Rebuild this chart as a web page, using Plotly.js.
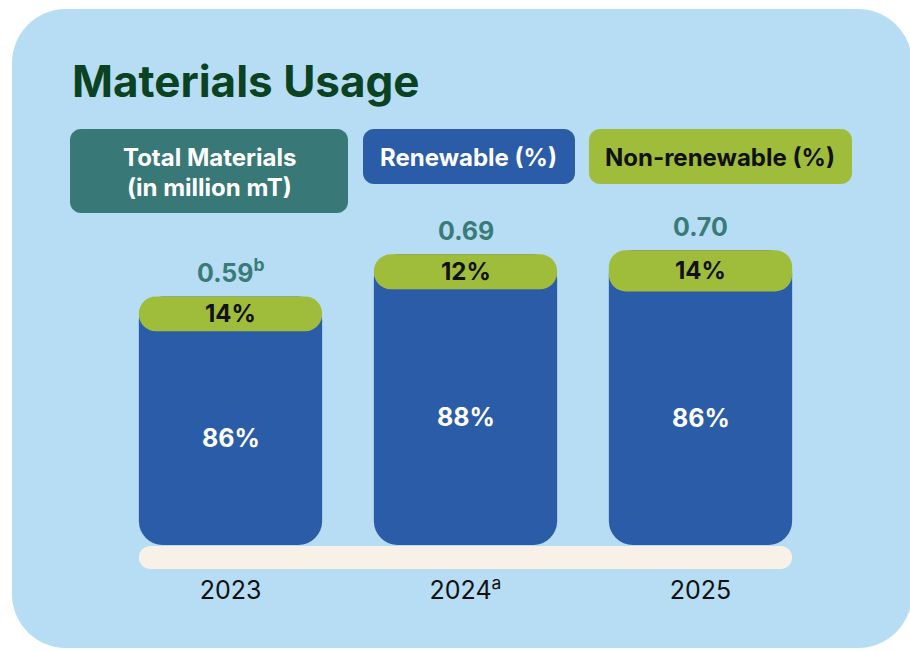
<!DOCTYPE html>
<html>
<head>
<meta charset="utf-8">
<script src="https://cdn.plot.ly/plotly-3.0.1.min.js"></script>
<style>html,body{margin:0;padding:0;background:#fff;}#chart{width:910px;height:651px;}</style>
</head>
<body>
<div id="chart"></div>
<script>
// ---- data ----
const years = ['2023', '2024', '2025'];
const yearLabels = ['2023', '2024<sup>a</sup>', '2025'];
const totalMaterials = [0.59, 0.69, 0.70];          // million mT
const totalLabels = ['0.59<sup>b</sup>', '0.69', '0.70'];
const renewablePct = [86, 88, 86];
const nonRenewablePct = [14, 12, 14];

// ---- style ----
const FONT = 'Inter, Lato, "Open Sans", sans-serif';
const C = {
  bg: '#b6ddf3', blue: '#2b5ca8', green: '#9fbd3b', teal: '#387977',
  title: '#0b4221', value: '#3a7b78', beige: '#f8f1e7'
};
const W = 910, H = 651;
const M = {l: 113, r: 92, t: 208, b: 106};
const PW = W - M.l - M.r, PH = H - M.t - M.b;
const BAR_W = 0.78;

// pixel -> paper helpers (for decorations only)
const pxX = x => (x - M.l) / PW;
const pxY = y => (H - M.b - y) / PH;
function rrect(x0, y0, x1, y1, r) {
  const k = 0.5523 * r;
  const P = (x, y) => pxX(x) + ',' + pxY(y);
  return 'M' + P(x0 + r, y0) + ' L' + P(x1 - r, y0) +
    ' C' + P(x1 - r + k, y0) + ' ' + P(x1, y0 + r - k) + ' ' + P(x1, y0 + r) +
    ' L' + P(x1, y1 - r) +
    ' C' + P(x1, y1 - r + k) + ' ' + P(x1 - r + k, y1) + ' ' + P(x1 - r, y1) +
    ' L' + P(x0 + r, y1) +
    ' C' + P(x0 + r - k, y1) + ' ' + P(x0, y1 - r + k) + ' ' + P(x0, y1 - r) +
    ' L' + P(x0, y0 + r) +
    ' C' + P(x0, y0 + r - k) + ' ' + P(x0 + r - k, y0) + ' ' + P(x0 + r, y0) + ' Z';
}

// ---- derived segment values ----
const n = years.length;
const xi = years.map((_, i) => i);
const renewVal = totalMaterials.map((t, i) => t * renewablePct[i] / 100);
const nonVal = totalMaterials.map((t, i) => t * nonRenewablePct[i] / 100);
const greenMid = renewVal.map((b, i) => b + nonVal[i] / 2);

const traces = [
  { // total column in blue (renewable share shows below the green cap)
    type: 'bar', x: xi, base: totalMaterials, y: totalMaterials.map(v => -v),
    width: BAR_W, marker: {color: C.blue, cornerradius: 24, line: {width: 0}},
    name: 'Renewable (%)', customdata: renewablePct,
    hovertemplate: '%{customdata}% renewable<extra></extra>'
  },
  { // non-renewable segment as a rounded cap
    type: 'bar', x: xi, base: renewVal, y: nonVal,
    width: BAR_W, marker: {color: C.green, cornerradius: 17, line: {width: 0}},
    name: 'Non-renewable (%)', customdata: nonRenewablePct,
    hovertemplate: '%{customdata}% non-renewable<extra></extra>'
  }
];

const annotations = [];
xi.forEach(i => {
  annotations.push({xref: 'x', yref: 'y', x: i, y: renewVal[i] / 2, text: renewablePct[i] + '%', showarrow: false,
    font: {family: FONT, size: 25, color: '#ffffff', weight: 700}});
  annotations.push({xref: 'x', yref: 'y', x: i, y: greenMid[i], text: nonRenewablePct[i] + '%', showarrow: false,
    font: {family: FONT, size: 24, color: '#111111', weight: 700}});
  annotations.push({xref: 'x', yref: 'y', x: i, y: totalMaterials[i], text: totalLabels[i], showarrow: false,
    yanchor: 'bottom', yshift: 6,
    font: {family: FONT, size: 25, color: C.value, weight: 700}});
});

// legend boxes text
const legTxt = (x, y, text, color) => ({xref: 'paper', yref: 'paper', x: pxX(x), y: pxY(y),
  text: text, showarrow: false, xanchor: 'center', yanchor: 'middle',
  font: {family: FONT, size: 24, color: color, weight: 700}});
annotations.push(legTxt(209, 157, 'Total Materials', '#ffffff'));
annotations.push(legTxt(209, 188, '(in million mT)', '#ffffff'));
annotations.push(legTxt(469, 157, 'Renewable (%)', '#ffffff'));
annotations.push(legTxt(720, 157, 'Non-renewable (%)', '#111111'));

// baseline strip derived from bar positions on the axis
const catPaper = c => (c + 0.5) / n;
const baseL = M.l + catPaper(-BAR_W / 2) * PW, baseR = M.l + catPaper(n - 1 + BAR_W / 2) * PW;

const shapes = [
  {type: 'path', xref: 'paper', yref: 'paper', layer: 'below', path: rrect(12, 9, 912, 648, 54),
   fillcolor: C.bg, line: {width: 0}},
  {type: 'path', xref: 'paper', yref: 'paper', layer: 'below', path: rrect(70, 129, 348, 213, 11),
   fillcolor: C.teal, line: {width: 0}},
  {type: 'path', xref: 'paper', yref: 'paper', layer: 'below', path: rrect(363, 129, 575, 184, 11),
   fillcolor: C.blue, line: {width: 0}},
  {type: 'path', xref: 'paper', yref: 'paper', layer: 'below', path: rrect(589, 129, 852, 184, 11),
   fillcolor: C.green, line: {width: 0}},
  {type: 'path', xref: 'paper', yref: 'paper', layer: 'below', path: rrect(baseL, 546, baseR, 569, 11.5),
   fillcolor: C.beige, line: {width: 0}}
];

const layout = {
  width: W, height: H,
  margin: M,
  paper_bgcolor: '#ffffff', plot_bgcolor: 'rgba(0,0,0,0)',
  barmode: 'overlay', showlegend: false,
  title: {text: 'Materials Usage', xref: 'container', yref: 'container', x: 72 / W, xanchor: 'left',
    y: 1 - 82 / H, yanchor: 'middle',
    font: {family: FONT, size: 44, color: C.title, weight: 700}},
  xaxis: {type: 'linear', range: [-0.5, n - 0.5], tickvals: xi, ticktext: yearLabels,
    showgrid: false, zeroline: false, showline: false, ticks: '', ticklabelstandoff: 28,
    tickfont: {family: FONT, size: 25, color: '#111111'}, fixedrange: true},
  yaxis: {range: [0, 0.8], visible: false, showgrid: false, zeroline: false, fixedrange: true},
  annotations: annotations,
  shapes: shapes
};

Plotly.newPlot('chart', traces, layout, {displayModeBar: false, staticPlot: true});
</script>
</body>
</html>
